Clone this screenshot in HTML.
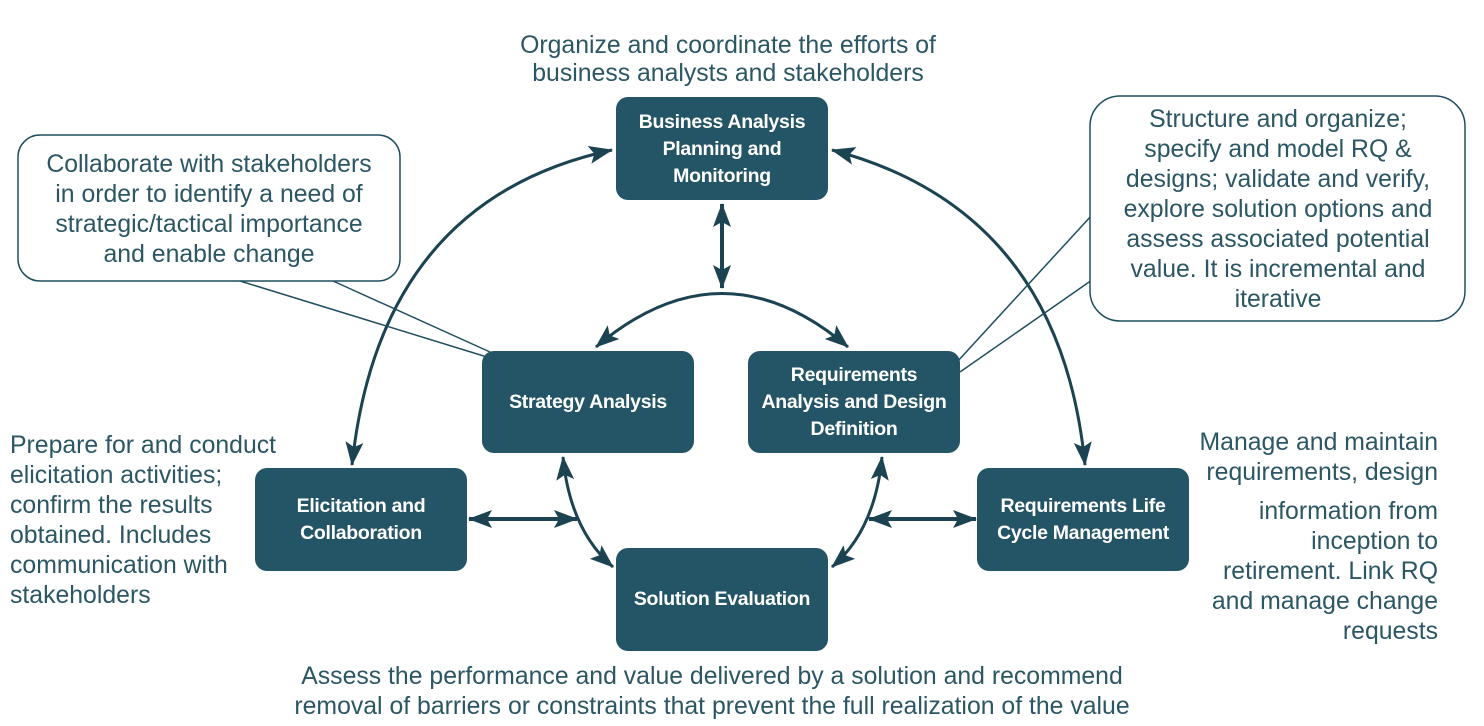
<!DOCTYPE html>
<html><head><meta charset="utf-8"><style>
body{margin:0;background:#fff;width:1484px;height:726px;overflow:hidden}
svg{display:block}
.t{font-family:"Liberation Sans",Arial,sans-serif;font-size:24.8px;fill:#2b5663}
.b{font-family:"Liberation Sans",Arial,sans-serif;font-size:19.5px;font-weight:bold;fill:#fff;letter-spacing:-0.3px}
</style></head><body>
<svg width="1484" height="726" viewBox="0 0 1484 726" xmlns="http://www.w3.org/2000/svg">
<defs>
<marker id="m" viewBox="0 0 24 18" refX="23" refY="9" markerWidth="24" markerHeight="18" orient="auto-start-reverse" markerUnits="userSpaceOnUse"><path d="M0,0 L24,9 L0,18 L5,9 Z" fill="#1b4351"/></marker>
</defs>
<g fill="none" stroke="#1b4351" stroke-width="3">
<path d="M612,150 Q380,200 352,465" marker-start="url(#m)" marker-end="url(#m)"/>
<path d="M832,150 Q1060,210 1085,465" marker-start="url(#m)" marker-end="url(#m)"/>
<path d="M596,347 Q722,240 848,347" marker-start="url(#m)" marker-end="url(#m)"/>
<path d="M722,204 L722,288" stroke-width="4" marker-start="url(#m)" marker-end="url(#m)"/>
<path d="M563,457 Q570,530 613,567" marker-start="url(#m)" marker-end="url(#m)"/>
<path d="M882,457 Q875,530 832,567" marker-start="url(#m)" marker-end="url(#m)"/>
<path d="M469,519 L577,519" stroke-width="4" marker-start="url(#m)" marker-end="url(#m)"/>
<path d="M869,519 L976,519" stroke-width="4" marker-start="url(#m)" marker-end="url(#m)"/>
</g>
<g fill="none" stroke="#1f4e5f" stroke-width="1.5">
<path d="M240,281 L487,357 M333,281 L490,352"/>
<path d="M1092,215 L957,362 M1092,280 L960,372"/>
</g>
<rect x="18" y="135" width="382" height="146" rx="22" fill="#fff" stroke="#1f4e5f" stroke-width="1.5"/>
<rect x="1090" y="96" width="375" height="225" rx="30" fill="#fff" stroke="#1f4e5f" stroke-width="1.5"/>
<g fill="#235566">
<rect x="616" y="97" width="212" height="103" rx="12"/>
<rect x="482" y="351" width="212" height="102" rx="12"/>
<rect x="748" y="351" width="212" height="102" rx="12"/>
<rect x="255" y="468" width="212" height="103" rx="12"/>
<rect x="977" y="468" width="212" height="103" rx="12"/>
<rect x="616" y="548" width="212" height="103" rx="12"/>
</g>
<g class="b" text-anchor="middle">
<text x="722" y="128">Business Analysis</text>
<text x="722" y="155">Planning and</text>
<text x="722" y="182">Monitoring</text>
<text x="588" y="408">Strategy Analysis</text>
<text x="854" y="381">Requirements</text>
<text x="854" y="408">Analysis and Design</text>
<text x="854" y="435">Definition</text>
<text x="361" y="512">Elicitation and</text>
<text x="361" y="539">Collaboration</text>
<text x="1083" y="512">Requirements Life</text>
<text x="1083" y="539">Cycle Management</text>
<text x="722" y="605">Solution Evaluation</text>
</g>
<g class="t" text-anchor="middle">
<text x="728" y="53">Organize and coordinate the efforts of</text>
<text x="728" y="81">business analysts and stakeholders</text>
<text x="209" y="172">Collaborate with stakeholders</text>
<text x="209" y="202">in order to identify a need of</text>
<text x="209" y="232">strategic/tactical importance</text>
<text x="209" y="262">and enable change</text>
<text x="1278" y="127">Structure and organize;</text>
<text x="1278" y="157">specify and model RQ &amp;</text>
<text x="1278" y="187">designs; validate and verify,</text>
<text x="1278" y="217">explore solution options and</text>
<text x="1278" y="247">assess associated potential</text>
<text x="1278" y="277">value. It is incremental and</text>
<text x="1278" y="307">iterative</text>
<text x="712" y="684">Assess the performance and value delivered by a solution and recommend</text>
<text x="712" y="714">removal of barriers or constraints that prevent the full realization of the value</text>
</g>
<g class="t">
<text x="10" y="453">Prepare for and conduct</text>
<text x="10" y="483">elicitation activities;</text>
<text x="10" y="513">confirm the results</text>
<text x="10" y="543">obtained. Includes</text>
<text x="10" y="573">communication with</text>
<text x="10" y="603">stakeholders</text>
</g>
<g class="t" text-anchor="end">
<text x="1438" y="450">Manage and maintain</text>
<text x="1438" y="480">requirements, design</text>
<text x="1438" y="519">information from</text>
<text x="1438" y="549">inception to</text>
<text x="1438" y="579">retirement. Link RQ</text>
<text x="1438" y="609">and manage change</text>
<text x="1438" y="639">requests</text>
</g>
</svg>
</body></html>
